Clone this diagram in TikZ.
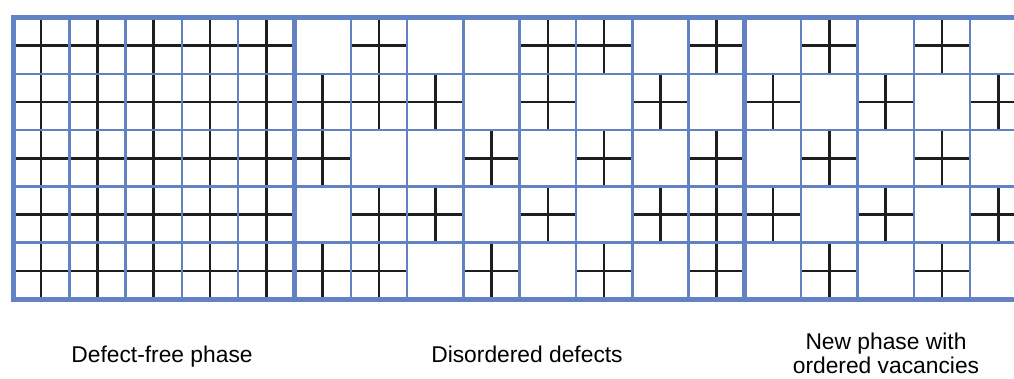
\documentclass[tikz,border=0pt]{standalone}
\usepackage{fontspec}
\setmainfont{Liberation Sans}
\definecolor{gridblue}{RGB}{98,130,196}
\definecolor{bondblack}{RGB}{30,30,30}
\tikzset{
  cellline/.style={gridblue, line width=2.5pt},
  frameline/.style={gridblue, line width=5pt, line join=miter},
  bond/.style={bondblack, line width=2.6pt},
  caption/.style={font=\fontsize{22.8}{24}\selectfont, align=center, inner sep=0pt}
}
% cell size and lattice origin (top-left corner)
\newcommand{\cs}{56.3}
\newcommand{\ox}{13}
\newcommand{\oy}{17.5}
% an occupied site: a full-width cross through the middle of cell (#1,#2)
\newcommand{\sitecross}[2]{%
  \draw[bond] ({\ox+(#1+0.5)*\cs},{\oy+(#2)*\cs}) -- ++(0,\cs)
              ({\ox+(#1)*\cs},{\oy+(#2+0.5)*\cs}) -- ++(\cs,0);}
\begin{document}
\begin{tikzpicture}[x=1pt,y=-1pt]
\useasboundingbox (0,0) rectangle (1014,378);
\fill[white] (0,0) rectangle (1014,378);
\begin{scope}
\clip (0,0) rectangle (1014,378);
% defect-free phase: every site occupied
\foreach \c in {0,...,4}
  \foreach \r in {0,...,4}
    {\sitecross{\c}{\r}}
% disordered defects: random vacancies
\foreach \c/\r in {6/0,9/0,10/0,12/0,
                   5/1,6/1,7/1,9/1,11/1,
                   5/2,8/2,10/2,12/2,
                   6/3,7/3,9/3,11/3,12/3,
                   5/4,6/4,8/4,10/4,12/4}
  {\sitecross{\c}{\r}}
% new phase: vacancies ordered on a checkerboard
\foreach \c in {13,...,17}
  \foreach \r in {0,...,4}
    {\pgfmathtruncatemacro{\siteparity}{mod(\c+\r,2)}%
     \ifnum\siteparity=0 \sitecross{\c}{\r}\fi}
% cell boundaries
\foreach \i in {1,...,17}
  \draw[cellline] ({\ox+\i*\cs},\oy) -- ({\ox+\i*\cs},{\oy+5*\cs});
\foreach \j in {1,...,4}
  \draw[cellline] (\ox,{\oy+\j*\cs}) -- ({\ox+18*\cs},{\oy+\j*\cs});
% outer frame and phase dividers
\draw[frameline] ({\ox+18*\cs},\oy) -- (\ox,\oy) -- (\ox,{\oy+5*\cs}) -- ({\ox+18*\cs},{\oy+5*\cs});
\draw[frameline] ({\ox+5*\cs},\oy) -- ({\ox+5*\cs},{\oy+5*\cs});
\draw[frameline] ({\ox+13*\cs},\oy) -- ({\ox+13*\cs},{\oy+5*\cs});
\end{scope}
% captions (a multi-line node sits on the baseline of its last line)
\node[caption, anchor=base] (capfree) at (162,362.3) {Defect-free phase};
\node[caption, anchor=base] (capdis) at (527,362.3) {Disordered defects};
\node[caption, anchor=base] (capnew) at (886,373.3) {New phase with\\ordered vacancies};
\end{tikzpicture}
\end{document}
